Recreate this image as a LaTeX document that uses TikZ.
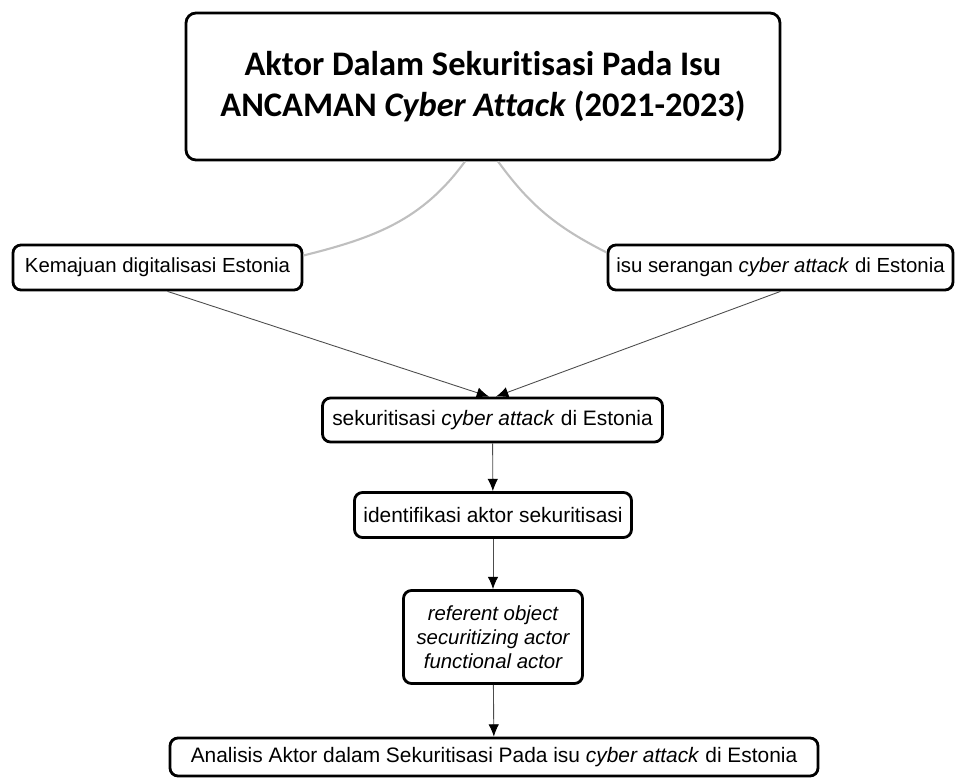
\documentclass[tikz,border=0pt]{standalone}
\usepackage{fontspec}
\setmainfont{Liberation Sans}
\newfontfamily\titlefont[Ligatures=NoCommon]{Carlito}
\usetikzlibrary{arrows.meta}
\usetikzlibrary{positioning}

\begin{document}
\begin{tikzpicture}
        % Define styles for shapes
        \tikzstyle{box} = [draw, rounded corners=0.16cm, line width=1.6pt, inner sep=0pt, align=center, font=\fontsize{11.9pt}{13.7pt}\selectfont]
        \tikzstyle{titlebox} = [draw, rounded corners=0.2cm, line width=1.6pt, align=center, font=\titlefont\bfseries\fontsize{19.6pt}{23pt}\selectfont]
        \tikzstyle{branch} = [draw=black!25, line width=1.2pt]
        \tikzstyle{flow} = [draw=black!70, line width=0.5pt, -{Latex[length=7pt,width=6pt,color=black]}]
        \useasboundingbox (0,0) rectangle (19.1,-15.56);
        % Draw shapes
        \node[titlebox, minimum width=11.88cm, minimum height=2.94cm] (judul) at (9.66,-1.73) {
            Aktor Dalam Sekuritisasi Pada Isu\\
            ANCAMAN \textit{Cyber Attack} (2021-2023)
        };
        \node[box, minimum width=5.78cm, minimum height=0.9cm, font=\fontsize{11.6pt}{13.7pt}\selectfont] (kemajuan) at (3.15,-5.35) {Kemajuan digitalisasi Estonia};
        \node[box, minimum width=6.9cm, minimum height=0.9cm, font=\fontsize{11.6pt}{13.7pt}\selectfont] (isu) at (15.61,-5.35) {isu serangan \textit{cyber attack} di Estonia};
        \node[box, minimum width=6.8cm, minimum height=0.88cm] (sekuritisasi) at (9.85,-8.4) {sekuritisasi \textit{cyber attack} di Estonia};
        \node[box, minimum width=5.54cm, minimum height=0.9cm] (identifikasi) at (9.86,-10.3) {identifikasi aktor sekuritisasi};
        \node[box, minimum width=3.58cm, minimum height=1.86cm, font=\itshape\fontsize{11.6pt}{13.7pt}\selectfont] (aktor) at (9.86,-12.74) {
            referent object\\
            securitizing actor\\
            functional actor
        };
        \node[box, minimum width=12.96cm, minimum height=0.76cm] (analisis) at (9.88,-15.14) {Analisis Aktor dalam Sekuritisasi Pada isu \textit{cyber attack} di Estonia};

        % Draw connections
        \draw[branch] ([xshift=-0.36cm]judul.south) to[out=-126, in=14] ([yshift=0.24cm]kemajuan.east);
        \draw[branch] ([xshift=0.3cm]judul.south) to[out=-54, in=153] ([yshift=0.3cm]isu.west);
        \draw[flow] ([xshift=0.2cm]kemajuan.south) -- ([xshift=-0.07cm]sekuritisasi.north);
        \draw[flow] (isu.south) -- ([xshift=0.07cm]sekuritisasi.north);
        \draw[flow] (sekuritisasi) -- (identifikasi);
        \draw[flow] (identifikasi) -- (aktor);
        \draw[flow] (aktor) -- (analisis);
    \end{tikzpicture}
\end{document}
